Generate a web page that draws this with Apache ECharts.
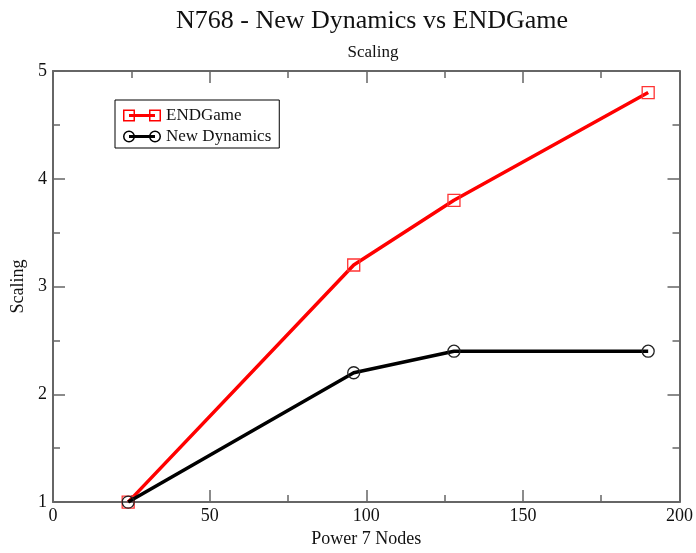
<!DOCTYPE html>
<html><head><meta charset="utf-8">
<script src="https://cdn.jsdelivr.net/npm/echarts@6/dist/echarts.min.js"></script>
<style>html,body{margin:0;padding:0;background:#fff;overflow:hidden}#c{width:696px;height:553px}</style>
</head><body><div id="c"></div>
<script>
const nodes = [24, 96, 128, 190];
const endgame = [1, 3.2, 3.8, 4.8];
const newDynamics = [1, 2.2, 2.4, 2.4];
const seriesNames = ['ENDGame', 'New Dynamics'];
const titleText = 'N768 - New Dynamics vs ENDGame';
const subtitleText = 'Scaling';
const xName = 'Power 7 Nodes';
const yName = 'Scaling';

const F = 'Liberation Serif, Times New Roman, serif';
const axisCol = '#666';
const iconRect = 'path://M0 0H12V12H0Z M1.5 1.5V10.5H10.5V1.5Z M26 0H38V12H26Z M27.5 1.5V10.5H36.5V1.5Z M6 4.5H32V7.5H6Z';
const iconCircle = 'path://M0 6A6 6 0 1 1 12 6A6 6 0 1 1 0 6Z M1.5 6A4.5 4.5 0 1 0 10.5 6A4.5 4.5 0 1 0 1.5 6Z M26 6A6 6 0 1 1 38 6A6 6 0 1 1 26 6Z M27.5 6A4.5 4.5 0 1 0 36.5 6A4.5 4.5 0 1 0 27.5 6Z M6 4.5H32V7.5H6Z';
const chart = echarts.init(document.getElementById('c'));
const baseX = {
  type: 'value', min: 0, max: 200, interval: 50,
  axisLine: {show: true, onZero: false, lineStyle: {color: axisCol, width: 2}},
  axisTick: {show: true, inside: true, length: 12, lineStyle: {color: axisCol, width: 1.5}},
  minorTick: {show: true, splitNumber: 2, length: 7, lineStyle: {color: axisCol, width: 1.5}},
  splitLine: {show: false}
};
const baseY = {
  type: 'value', min: 1, max: 5, interval: 1,
  axisLine: {show: true, onZero: false, lineStyle: {color: axisCol, width: 2}},
  axisTick: {show: true, inside: true, length: 12, lineStyle: {color: axisCol, width: 1.5}},
  minorTick: {show: true, splitNumber: 2, length: 7, lineStyle: {color: axisCol, width: 1.5}},
  splitLine: {show: false}
};
chart.setOption({
  animation: false,
  backgroundColor: '#fff',
  title: [
    {text: titleText, left: 367, textAlign: 'center', top: 3, textStyle: {fontFamily: F, fontSize: 26, fontWeight: 'normal', color: '#111'}},
    {text: subtitleText, left: 368, textAlign: 'center', top: 39, textStyle: {fontFamily: F, fontSize: 17, fontWeight: 'normal', color: '#111'}}
  ],
  grid: {left: 53, right: 13, top: 71, bottom: 41, containLabel: false},
  legend: {
    left: 115, top: 100, orient: 'vertical', itemGap: 4,
    padding: [7, 8, 3, 8], borderColor: '#000', borderWidth: 1,
    itemWidth: 38, itemHeight: 12, symbolKeepAspect: false,
    textStyle: {fontFamily: F, fontSize: 17, color: '#111'},
    data: [
      {name: seriesNames[0], icon: iconRect, itemStyle: {color: '#ff0000', borderWidth: 0}},
      {name: seriesNames[1], icon: iconCircle, itemStyle: {color: '#000', borderWidth: 0}}
    ]
  },
  xAxis: [
    Object.assign({}, baseX, {
      position: 'bottom', name: xName, nameLocation: 'middle', nameGap: 24,
      nameTextStyle: {fontFamily: F, fontSize: 18, color: '#111'},
      axisLabel: {fontFamily: F, fontSize: 18, color: '#111', margin: 5}
    }),
    Object.assign({}, baseX, {position: 'top', axisLabel: {show: false}})
  ],
  yAxis: [
    Object.assign({}, baseY, {
      position: 'left', name: yName, nameLocation: 'middle', nameGap: 21,
      nameTextStyle: {fontFamily: F, fontSize: 18, color: '#111'},
      axisLabel: {fontFamily: F, fontSize: 18, color: '#111', margin: 6}
    }),
    Object.assign({}, baseY, {position: 'right', axisLabel: {show: false}})
  ],
  series: [
    {
      name: seriesNames[0], type: 'line',
      data: nodes.map((x, i) => [x, endgame[i]]),
      symbol: 'rect', symbolSize: 12,
      lineStyle: {color: '#ff0000', width: 3.5},
      itemStyle: {color: 'rgba(255,255,255,0)', borderColor: '#ff3333', borderWidth: 1.3},
      color: '#ff0000', z: 2
    },
    {
      name: seriesNames[1], type: 'line',
      data: nodes.map((x, i) => [x, newDynamics[i]]),
      symbol: 'circle', symbolSize: 12,
      lineStyle: {color: '#000', width: 3.5},
      itemStyle: {color: 'rgba(255,255,255,0)', borderColor: '#222', borderWidth: 1.3},
      color: '#000', z: 3
    }
  ]
});
</script></body></html>
